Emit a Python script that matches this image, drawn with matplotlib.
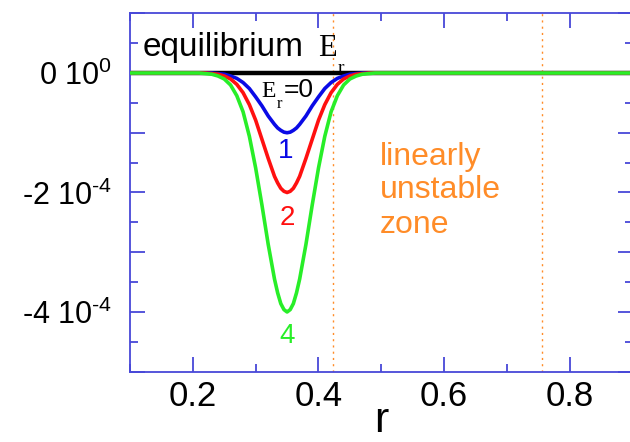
import matplotlib
matplotlib.use("Agg")
import matplotlib.pyplot as plt
from matplotlib.ticker import MultipleLocator, FuncFormatter

plt.rcParams["font.family"] = ["Liberation Sans", "DejaVu Sans"]
plt.rcParams["mathtext.fontset"] = "custom"
plt.rcParams["mathtext.rm"] = "Liberation Sans"
plt.rcParams["mathtext.default"] = "regular"

SERIF = "Liberation Serif"

# radial grid
r = [0.10, 0.20, 0.21, 0.22, 0.23, 0.24, 0.25, 0.26, 0.27, 0.28, 0.29, 0.30,
     0.31, 0.32, 0.33, 0.335, 0.34, 0.345, 0.35, 0.355, 0.36, 0.365, 0.37,
     0.38, 0.39, 0.40, 0.41, 0.42, 0.43, 0.44, 0.45, 0.46, 0.47, 0.48, 0.49,
     0.50, 0.90]

# radial electric field profiles (units of 1e-4)
er_equilibrium = [0.0] * len(r)
er_1 = [0, 0, 0, 0, 0, 0.01, 0.02, 0.05, 0.09, 0.16, 0.26, 0.40, 0.55, 0.72,
        0.86, 0.92, 0.96, 0.99, 1.00, 0.99, 0.96, 0.92, 0.86, 0.72, 0.55,
        0.40, 0.26, 0.16, 0.09, 0.05, 0.02, 0.01, 0, 0, 0, 0, 0]
er_2 = [0, 0, 0, 0, 0.01, 0.02, 0.05, 0.10, 0.19, 0.33, 0.53, 0.79, 1.11,
        1.43, 1.73, 1.84, 1.93, 1.98, 2.00, 1.98, 1.93, 1.84, 1.73, 1.43,
        1.11, 0.79, 0.53, 0.33, 0.19, 0.10, 0.05, 0.02, 0.01, 0, 0, 0, 0]
er_4 = [0, 0, 0, 0.01, 0.02, 0.05, 0.10, 0.20, 0.38, 0.65, 1.06, 1.59, 2.21,
        2.87, 3.45, 3.68, 3.86, 3.96, 4.00, 3.96, 3.86, 3.68, 3.45, 2.87,
        2.21, 1.59, 1.06, 0.65, 0.38, 0.20, 0.10, 0.05, 0.02, 0.01, 0, 0, 0]

zone_edges = [0.423, 0.755]
y_labels = {0: r"0 10$^{0}$", -2: r"-2 10$^{\text{-}4}$", -4: r"-4 10$^{\text{-}4}$"}

scale = 1e-4
blue, red, green = "#0a0ae6", "#ff1010", "#28ee28"
orange = "#ff8c28"
axis_col = "#4848d8"

fig = plt.figure(figsize=(6.3, 4.42), dpi=100)
ax = fig.add_axes([0.2063, 0.159, 0.798, 0.811])

for x0 in zone_edges:
    ax.axvline(x0, color=orange, lw=1.0, ls=(0, (1.5, 3)), zorder=1)

ax.plot(r, [v * scale for v in er_equilibrium], color="black", lw=3.2, zorder=2)
ax.plot(r, [-v * scale for v in er_1], color=blue, lw=2.6, zorder=3)
ax.plot(r, [-v * scale for v in er_2], color=red, lw=2.6, zorder=4)
ax.plot(r, [-v * scale for v in er_4], color=green, lw=2.6, zorder=5)

ax.set_xlim(0.1, 0.9)
ax.set_ylim(-5e-4, 1e-4)

ax.xaxis.set_major_locator(MultipleLocator(0.2))
ax.xaxis.set_minor_locator(MultipleLocator(0.1))
ax.yaxis.set_major_locator(MultipleLocator(1e-4))
ax.yaxis.set_minor_locator(MultipleLocator(0.5e-4))


def yfmt(v, pos):
    k = int(round(v / scale))
    return y_labels.get(k, "")


ax.yaxis.set_major_formatter(FuncFormatter(yfmt))
ax.xaxis.set_major_formatter(FuncFormatter(lambda v, p: f"{v:.1f}"))

for s in ax.spines.values():
    s.set_color(axis_col)
    s.set_linewidth(1.3)
ax.tick_params(which="both", direction="in", top=True, right=True,
               color=axis_col, width=1.3)
ax.tick_params(which="major", length=11)
ax.tick_params(which="minor", length=6)
ax.tick_params(axis="x", labelsize=25, pad=6)
ax.tick_params(axis="y", labelsize=22, pad=13)

# x-axis title, placed in figure coordinates at the bottom edge
fig.text(381 / 630, 1 / 442, "r", fontsize=31, ha="center", va="bottom")

# equilibrium label
ax.text(0.1207, 0.28e-4, "equilibrium", fontsize=24, ha="left", va="baseline")
ax.text(0.4, 0.28e-4, "E", fontsize=22, family=SERIF, ha="left", va="baseline")
ax.text(0.43, 0.0, "r", fontsize=14, family=SERIF, ha="left", va="baseline")

# E_r = 0 label
ax.text(0.309, -0.40e-4, "E", fontsize=17, family=SERIF, ha="left", va="baseline")
ax.text(0.334, -0.58e-4, "r", fontsize=12, family=SERIF, ha="left", va="baseline")
ax.text(0.3445, -0.40e-4, "=0", fontsize=19, ha="left", va="baseline")

ax.text(0.347, -1.42e-4, "1", color=blue, fontsize=20, ha="center", va="baseline")
ax.text(0.35, -2.54e-4, "2", color=red, fontsize=20, ha="center", va="baseline")
ax.text(0.35, -4.52e-4, "4", color=green, fontsize=20, ha="center", va="baseline")

for txt, yb in [("linearly", -1.54e-4), ("unstable", -2.09e-4), ("zone", -2.68e-4)]:
    ax.text(0.498, yb, txt, color=orange, fontsize=23, ha="left", va="baseline")

fig.savefig("out.png", dpi=100)
